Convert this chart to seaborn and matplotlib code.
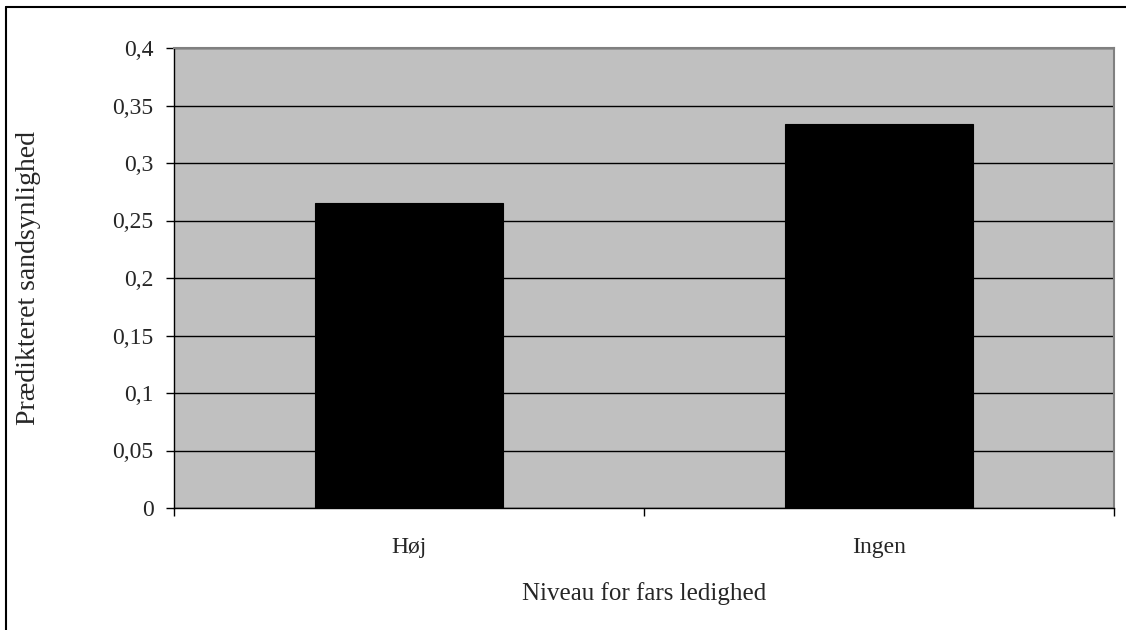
import matplotlib
matplotlib.use("Agg")
import matplotlib.pyplot as plt
import seaborn as sns
import pandas as pd
from matplotlib.lines import Line2D
from matplotlib.ticker import FuncFormatter, FixedLocator

# Predicted probability by father's unemployment level
categories = ["Høj", "Ingen"]
values = [0.265, 0.334]
yticks = [0, 0.05, 0.1, 0.15, 0.2, 0.25, 0.3, 0.35, 0.4]

df = pd.DataFrame({"niveau": categories, "sandsynlighed": values})

sns.set_theme(style="white")
plt.rcParams["font.family"] = ["Liberation Serif", "DejaVu Serif"]

W, H = 1126, 630
L, R, T, B = 174, 1114, 48, 508
fig = plt.figure(figsize=(W / 100, H / 100), dpi=100)
ax = fig.add_axes([L / W, 1 - B / H, (R - L) / W, (B - T) / H])
ax.set_facecolor("#C0C0C0")

sns.barplot(data=df, x="niveau", y="sandsynlighed", ax=ax, color="black",
            width=0.4, saturation=1, edgecolor="black", linewidth=0.8, zorder=3)

ax.set_xlim(-0.5, 1.5)
ax.set_ylim(0, 0.4)
ax.yaxis.set_major_locator(FixedLocator(yticks))
ax.yaxis.set_major_formatter(
    FuncFormatter(lambda v, _: ("%g" % round(v, 2)).replace(".", ",")))
ax.grid(axis="y", color="black", linewidth=1.0, zorder=1)
ax.set_axisbelow(True)

# x ticks sit on category boundaries, labels at category centres
ax.set_xticks([-0.5, 0.5, 1.5])
ax.set_xticklabels([])
ax.set_xticks([0, 1], minor=True)
ax.set_xticklabels(categories, minor=True)
ax.tick_params(axis="x", which="major", direction="out", length=5.8, width=1,
               color="black", bottom=True)
ax.tick_params(axis="x", which="minor", length=0, pad=21, labelsize=17)
ax.tick_params(axis="y", direction="out", length=5.8, width=1, color="black",
               left=True, labelsize=17, pad=9)

for side in ("left", "bottom"):
    ax.spines[side].set_color("black")
    ax.spines[side].set_linewidth(1.0)
for side in ("top", "right"):
    ax.spines[side].set_color("#808080")
    ax.spines[side].set_linewidth(1.5)

ax.set_xlabel("Niveau for fars ledighed", fontsize=18)
ax.set_ylabel("Prædikteret sandsynlighed", fontsize=20)
ax.xaxis.set_label_coords(0.5, -(582 - B) / (B - T))
ax.yaxis.set_label_coords(-(L - 41) / (R - L), 0.5)

# chart frame (top and left edges)
fig.add_artist(Line2D([6 / W, 6 / W], [0, 1 - 7 / H], transform=fig.transFigure,
                      color="black", linewidth=1.5))
fig.add_artist(Line2D([6 / W, 1], [1 - 7 / H, 1 - 7 / H], transform=fig.transFigure,
                      color="black", linewidth=1.5))

fig.savefig("out.png", dpi=100)
